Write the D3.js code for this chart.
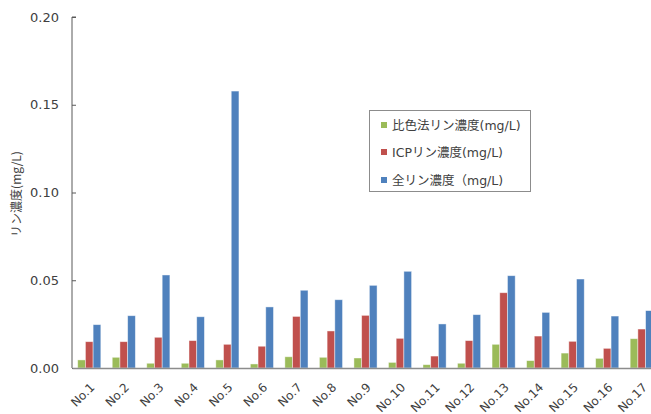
<!DOCTYPE html>
<html>
<head>
<meta charset="utf-8">
<script src="https://cdn.jsdelivr.net/npm/d3@7/dist/d3.min.js"></script>
<style>
  html, body { margin: 0; padding: 0; background: #fff; }
  svg { display: block; }
  text { font-family: "DejaVu Sans", Verdana, "Noto Sans CJK JP", sans-serif; fill: #404040; }
</style>
</head>
<body>
<svg id="chart" width="651" height="414"></svg>
<script>
// Sample sites
const categories = ["No.1","No.2","No.3","No.4","No.5","No.6","No.7","No.8","No.9",
  "No.10","No.11","No.12","No.13","No.14","No.15","No.16","No.17"];

// Phosphorus concentration (mg/L) by method
const colorimetric = [0.0046,0.0061,0.0027,0.0027,0.0046,0.0023,0.0064,0.0061,0.0057,
  0.0032,0.0019,0.0027,0.0135,0.0042,0.0085,0.0055,0.0167];
const icp = [0.0150,0.0150,0.0175,0.0156,0.0135,0.0124,0.0294,0.0211,0.0300,
  0.0169,0.0068,0.0156,0.0429,0.0182,0.0152,0.0112,0.0222];
const totalP = [0.0247,0.0298,0.0530,0.0292,0.1578,0.0348,0.0443,0.0389,0.0471,
  0.0551,0.0251,0.0304,0.0526,0.0317,0.0507,0.0296,0.0327];

const seriesNames = ["比色法リン濃度(mg/L)", "ICPリン濃度(mg/L)", "全リン濃度（mg/L)"];
const seriesColors = ["#9BBB59", "#C0504D", "#4F81BD"];
const yTicks = [0, 0.05, 0.10, 0.15, 0.20];

const series = [colorimetric, icp, totalP];

const svg = d3.select("#chart");
const plotLeft = 72, plotTop = 17, plotBottom = 368;
const plotWidth = 587;

const x = d3.scaleBand().domain(categories).range([plotLeft, plotLeft + plotWidth]).paddingInner(0.33).paddingOuter(0.165);
const xs = d3.scaleBand().domain(d3.range(series.length)).range([0, x.bandwidth()]);
const y = d3.scaleLinear().domain([0, 0.20]).range([plotBottom, plotTop]);

// Bars
categories.forEach((c, i) => {
  const g = svg.append("g").attr("transform", `translate(${x(c)},0)`);
  g.selectAll("rect")
    .data(series.map((s, k) => ({ k, v: s[i] })))
    .join("rect")
    .attr("x", d => xs(d.k))
    .attr("y", d => y(d.v))
    .attr("width", xs.bandwidth())
    .attr("height", d => y(0) - y(d.v))
    .attr("fill", d => seriesColors[d.k])
    .attr("stroke", "rgba(255,255,255,0.55)")
    .attr("stroke-width", 0.8);
});

// Y axis
const yAxis = d3.axisRight(y).tickValues(yTicks).tickSize(4).tickFormat(d3.format(".2f"));
const ya = svg.append("g").attr("transform", `translate(${plotLeft},0)`).call(yAxis);
ya.select(".domain").attr("stroke", "#595959").attr("d", `M4,${plotTop}H0V${plotBottom}`);
ya.selectAll(".tick line").attr("stroke", "#595959");
ya.selectAll(".tick text")
  .attr("x", -13).attr("text-anchor", "end")
  .style("font-size", "13px").attr("fill", "#404040");

// X axis
const xAxis = d3.axisBottom(x).tickSize(0);
const xa = svg.append("g").attr("transform", `translate(0,${plotBottom})`).call(xAxis);
xa.select(".domain").attr("stroke", "#8c8c8c").attr("stroke-width", 1.5);
xa.selectAll(".tick text")
  .attr("text-anchor", "end")
  .attr("dy", 0)
  .attr("transform", "translate(4,18) rotate(-45)")
  .style("font-size", "12px").attr("fill", "#404040");

// Y axis title
svg.append("text")
  .attr("transform", "translate(21,194) rotate(-90)")
  .attr("text-anchor", "middle")
  .style("font-size", "12px")
  .style("font-family", "'Noto Sans CJK JP', 'DejaVu Sans', sans-serif")
  .text("リン濃度(mg/L)");

// Legend
const lg = svg.append("g");
lg.append("rect").attr("x", 369.5).attr("y", 110.5).attr("width", 161).attr("height", 81)
  .attr("fill", "#fff").attr("stroke", "#8c8c8c");
const rowY = [125, 152, 180];
seriesNames.forEach((n, k) => {
  lg.append("rect").attr("x", 381).attr("y", rowY[k] - 3).attr("width", 6).attr("height", 6)
    .attr("fill", seriesColors[k]);
  lg.append("text").attr("x", 392).attr("y", rowY[k]).attr("dy", "0.36em")
    .style("font-size", "12.5px")
    .style("font-family", "'DejaVu Sans', 'Noto Sans CJK JP', sans-serif")
    .text(n);
});
</script>
</body>
</html>
